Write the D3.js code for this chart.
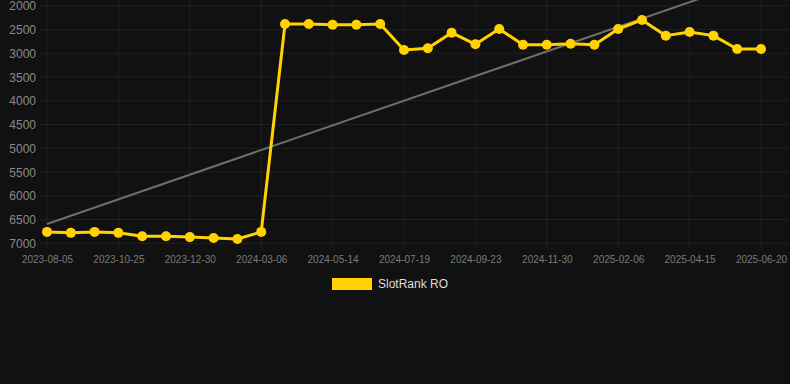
<!DOCTYPE html>
<html><head><meta charset="utf-8">
<script src="https://cdn.jsdelivr.net/npm/d3@7"></script>
<style>html,body{margin:0;padding:0;background:#111111;}svg{display:block;}</style>
</head><body>
<div id="chart"></div>
<script>
const dates = ["2023-08-05","2023-08-28","2023-09-20","2023-10-25","2023-11-15","2023-12-08","2023-12-30","2024-01-22","2024-02-13","2024-03-06","2024-03-29","2024-04-21","2024-05-14","2024-06-05","2024-06-27","2024-07-19","2024-08-10","2024-09-01","2024-09-23","2024-10-16","2024-11-08","2024-11-30","2024-12-23","2025-01-15","2025-02-06","2025-03-01","2025-03-23","2025-04-15","2025-05-07","2025-05-29","2025-06-20"];
const rankValues = [6760,6780,6760,6780,6850,6850,6870,6890,6910,6760,2385,2385,2400,2400,2385,2932,2897,2568,2813,2490,2820,2820,2800,2820,2490,2300,2630,2553,2630,2911,2911];
const trendValues = [6594,1407];
const yTicks = [2000,2500,3000,3500,4000,4500,5000,5500,6000,6500,7000];
const seriesName = "SlotRank RO";

const W = 790, H = 384;
const svg = d3.select("#chart").append("svg").attr("width", W).attr("height", H);
svg.append("rect").attr("width", W).attr("height", H).attr("fill", "#111111");

const pLeft = 47, pRight = 761, pTop = 5.7, pBottom = 243.3;
const x = d3.scalePoint().domain(dates).range([pLeft, pRight]);
const y = d3.scaleLinear().domain([2000, 7000]).range([pTop, pBottom]);

// grid
const g = svg.append("g");
g.selectAll("line.h").data(yTicks).join("line")
  .attr("x1", 40).attr("x2", W).attr("y1", d => y(d)).attr("y2", d => y(d))
  .attr("stroke", "rgba(255,255,255,0.06)").attr("stroke-width", 1);
const xLabelDates = dates.filter((d, i) => i % 3 === 0);
g.selectAll("line.v").data(xLabelDates).join("line")
  .attr("x1", d => x(d)).attr("x2", d => x(d)).attr("y1", 0).attr("y2", pBottom + 5)
  .attr("stroke", "rgba(255,255,255,0.06)").attr("stroke-width", 1);

// y axis labels
const yAxis = d3.axisLeft(y).tickValues(yTicks).tickSize(0).tickPadding(0).tickFormat(d3.format("d"));
const ya = svg.append("g").attr("transform", "translate(36,0)").call(yAxis);
ya.select(".domain").remove();
ya.selectAll("text").attr("fill", "#8a8a8a").attr("font-family", "Liberation Sans, Arial, sans-serif").attr("font-size", 12).attr("dy", "0.35em");

// x axis labels
const xAxis = d3.axisBottom(x).tickValues(xLabelDates).tickSize(0).tickPadding(0);
const xa = svg.append("g").attr("transform", `translate(0,${pBottom + 16})`).call(xAxis);
xa.select(".domain").remove();
xa.selectAll("text").attr("fill", "#7a7a7a").attr("font-family", "Liberation Sans, Arial, sans-serif").attr("font-size", 10).attr("dy", "0.35em");

// trend line
svg.append("line")
  .attr("x1", x(dates[0])).attr("y1", y(trendValues[0]))
  .attr("x2", x(dates[dates.length - 1])).attr("y2", y(trendValues[1]))
  .attr("stroke", "#6e6e6e").attr("stroke-width", 2);

// series line
const line = d3.line().x((d, i) => x(dates[i])).y(d => y(d));
svg.append("path").datum(rankValues).attr("d", line)
  .attr("fill", "none").attr("stroke", "#FFD200").attr("stroke-width", 3).attr("stroke-linejoin", "round");
svg.selectAll("circle.p").data(rankValues).join("circle")
  .attr("cx", (d, i) => x(dates[i])).attr("cy", d => y(d)).attr("r", 5)
  .attr("fill", "#FFD200");

// legend
svg.append("rect").attr("x", 332).attr("y", 278).attr("width", 40).attr("height", 12).attr("fill", "#FFD200");
svg.append("text").attr("x", 378).attr("y", 284).attr("dy", "0.35em")
  .attr("fill", "#dddddd").attr("font-family", "Liberation Sans, Arial, sans-serif").attr("font-size", 12)
  .text(seriesName);
</script>
</body></html>
